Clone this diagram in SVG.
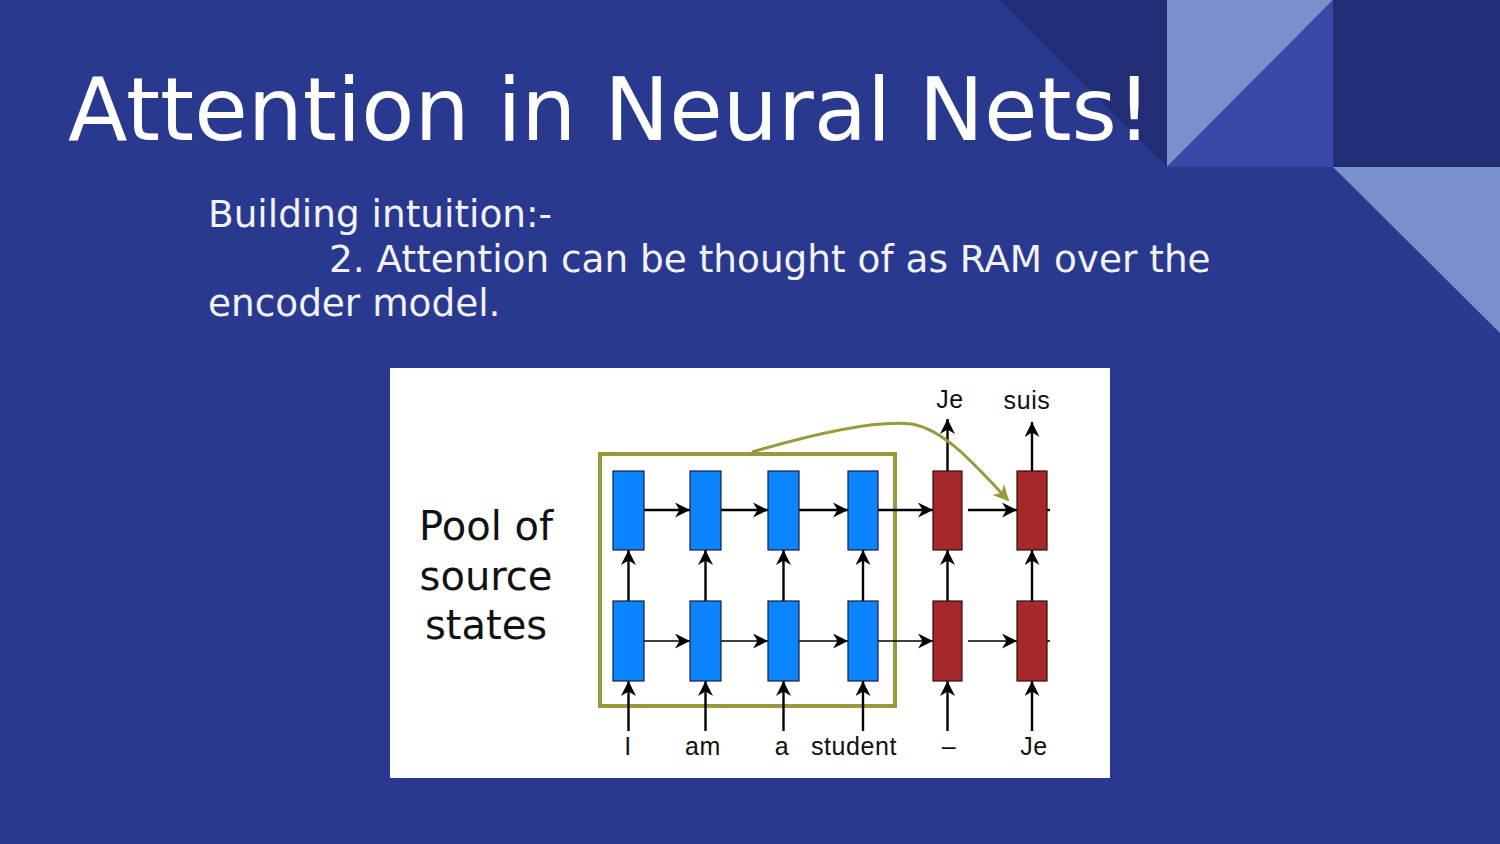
<svg xmlns="http://www.w3.org/2000/svg" width="1500" height="844" viewBox="0 0 1500 844">
<style>
.bg{fill:#2a3990}
.dk{fill:#212d74}
.lt{fill:#7891cc}
.md{fill:#3849a8}
.ttl{font-family:"DejaVu Sans",sans-serif;font-size:87px;fill:#ffffff}
.sub{font-family:"DejaVu Sans",sans-serif;font-size:37.4px;fill:#f2f2f5}
.enc{fill:#0a84ff;stroke:#1a1a40;stroke-width:1.2}
.dec{fill:#a5282a;stroke:#2a1010;stroke-width:1.2}
.ln{stroke:#000;stroke-width:2.4;fill:none}
.lnb{stroke:#000;stroke-width:1.6;fill:none}
.lab{font-family:"Liberation Sans",Arial,sans-serif;font-size:25px;letter-spacing:0.6px;fill:#111;text-anchor:middle}
.pool{font-family:"DejaVu Sans",sans-serif;font-size:40px;fill:#111;text-anchor:middle}
</style>
<defs>
<marker id="ah2" viewBox="0 0 10 10" refX="10" refY="5" markerWidth="15" markerHeight="15" markerUnits="userSpaceOnUse" orient="auto">
<path d="M0,0 L10,5 L0,10 L3,5 Z" fill="#000"/>
</marker>
<marker id="oh" viewBox="0 0 10 10" refX="9" refY="5" markerWidth="16" markerHeight="16" markerUnits="userSpaceOnUse" orient="auto">
<path d="M0,0 L10,5 L0,10 L3,5 Z" fill="#9a9a3c"/>
</marker>
</defs>
<rect class="bg" x="0" y="0" width="1500" height="844"/>
<polygon class="dk" points="1000,0 1167,0 1167,167"/>
<polygon class="lt" points="1167,0 1333,0 1167,167"/>
<polygon class="md" points="1333,0 1333,167 1167,167"/>
<rect class="dk" x="1333" y="0" width="167" height="167"/>
<polygon class="lt" points="1333,167 1500,167 1500,333"/>
<text class="ttl" x="68" y="140">Attention in Neural Nets!</text>
<text class="sub" x="208" y="227">Building intuition:-</text>
<text class="sub" x="329" y="272">2. Attention can be thought of as RAM over the</text>
<text class="sub" x="208" y="316">encoder model.</text>
<rect x="390" y="368" width="720" height="410" fill="#ffffff"/>
<g id="pool-label">
<text class="pool" x="486" y="540">Pool of</text>
<text class="pool" x="486" y="590">source</text>
<text class="pool" x="486" y="639">states</text>
</g>
<g id="pool-box">
<rect x="600" y="454" width="295" height="252" fill="none" stroke="#9a9a3c" stroke-width="4"/>
</g>
<g id="connectors">
<line class="ln" x1="644" y1="510" x2="690" y2="510" marker-end="url(#ah2)"/>
<line class="ln" x1="721" y1="510" x2="768" y2="510" marker-end="url(#ah2)"/>
<line class="ln" x1="799" y1="510" x2="848" y2="510" marker-end="url(#ah2)"/>
<line class="ln" x1="878" y1="510" x2="933" y2="510" marker-end="url(#ah2)"/>
<line class="ln" x1="968" y1="510" x2="1017" y2="510" marker-end="url(#ah2)"/>
<line class="ln" x1="1047" y1="510" x2="1050" y2="510"/>
<line class="lnb" x1="644" y1="641" x2="690" y2="641" marker-end="url(#ah2)"/>
<line class="lnb" x1="721" y1="641" x2="768" y2="641" marker-end="url(#ah2)"/>
<line class="lnb" x1="799" y1="641" x2="848" y2="641" marker-end="url(#ah2)"/>
<line class="lnb" x1="878" y1="641" x2="933" y2="641" marker-end="url(#ah2)"/>
<line class="lnb" x1="968" y1="641" x2="1017" y2="641" marker-end="url(#ah2)"/>
<line class="lnb" x1="1047" y1="641" x2="1050" y2="641"/>
<line class="ln" x1="628.5" y1="601" x2="628.5" y2="550" marker-end="url(#ah2)"/>
<line class="ln" x1="705.5" y1="601" x2="705.5" y2="550" marker-end="url(#ah2)"/>
<line class="ln" x1="783.5" y1="601" x2="783.5" y2="550" marker-end="url(#ah2)"/>
<line class="ln" x1="863" y1="601" x2="863" y2="550" marker-end="url(#ah2)"/>
<line class="ln" x1="947.5" y1="601" x2="947.5" y2="550" marker-end="url(#ah2)"/>
<line class="ln" x1="1032" y1="601" x2="1032" y2="550" marker-end="url(#ah2)"/>
<line class="ln" x1="628.5" y1="731" x2="628.5" y2="681" marker-end="url(#ah2)"/>
<line class="ln" x1="705.5" y1="731" x2="705.5" y2="681" marker-end="url(#ah2)"/>
<line class="ln" x1="783.5" y1="731" x2="783.5" y2="681" marker-end="url(#ah2)"/>
<line class="ln" x1="863" y1="731" x2="863" y2="681" marker-end="url(#ah2)"/>
<line class="ln" x1="947.5" y1="731" x2="947.5" y2="681" marker-end="url(#ah2)"/>
<line class="ln" x1="1032" y1="731" x2="1032" y2="681" marker-end="url(#ah2)"/>
<line class="ln" x1="947.5" y1="471" x2="947.5" y2="419" marker-end="url(#ah2)"/>
<line class="ln" x1="1032" y1="471" x2="1032" y2="422" marker-end="url(#ah2)"/>
<path d="M752,452 C820,432 880,420 912,424 C945,430 975,465 1008,500" fill="none" stroke="#9a9a3c" stroke-width="3" marker-end="url(#oh)"/>
</g>
<g id="enc-top">
<rect class="enc" x="613" y="471" width="31" height="79"/>
<rect class="enc" x="690" y="471" width="31" height="79"/>
<rect class="enc" x="768" y="471" width="31" height="79"/>
<rect class="enc" x="848" y="471" width="30" height="79"/>
</g>
<g id="enc-bottom">
<rect class="enc" x="613" y="601" width="31" height="80"/>
<rect class="enc" x="690" y="601" width="31" height="80"/>
<rect class="enc" x="768" y="601" width="31" height="80"/>
<rect class="enc" x="848" y="601" width="30" height="80"/>
</g>
<g id="dec-top">
<rect class="dec" x="933" y="471" width="29" height="79"/>
<rect class="dec" x="1017" y="471" width="30" height="79"/>
</g>
<g id="dec-bottom">
<rect class="dec" x="933" y="601" width="29" height="80"/>
<rect class="dec" x="1017" y="601" width="30" height="80"/>
</g>
<g id="labels">
<text class="lab" x="628" y="755">I</text>
<text class="lab" x="703" y="755">am</text>
<text class="lab" x="782" y="755">a</text>
<text class="lab" x="854" y="755">student</text>
<text class="lab" x="949" y="755">–</text>
<text class="lab" x="1034" y="755">Je</text>
<text class="lab" x="950" y="408">Je</text>
<text class="lab" x="1027" y="409">suis</text>
</g>
</svg>
